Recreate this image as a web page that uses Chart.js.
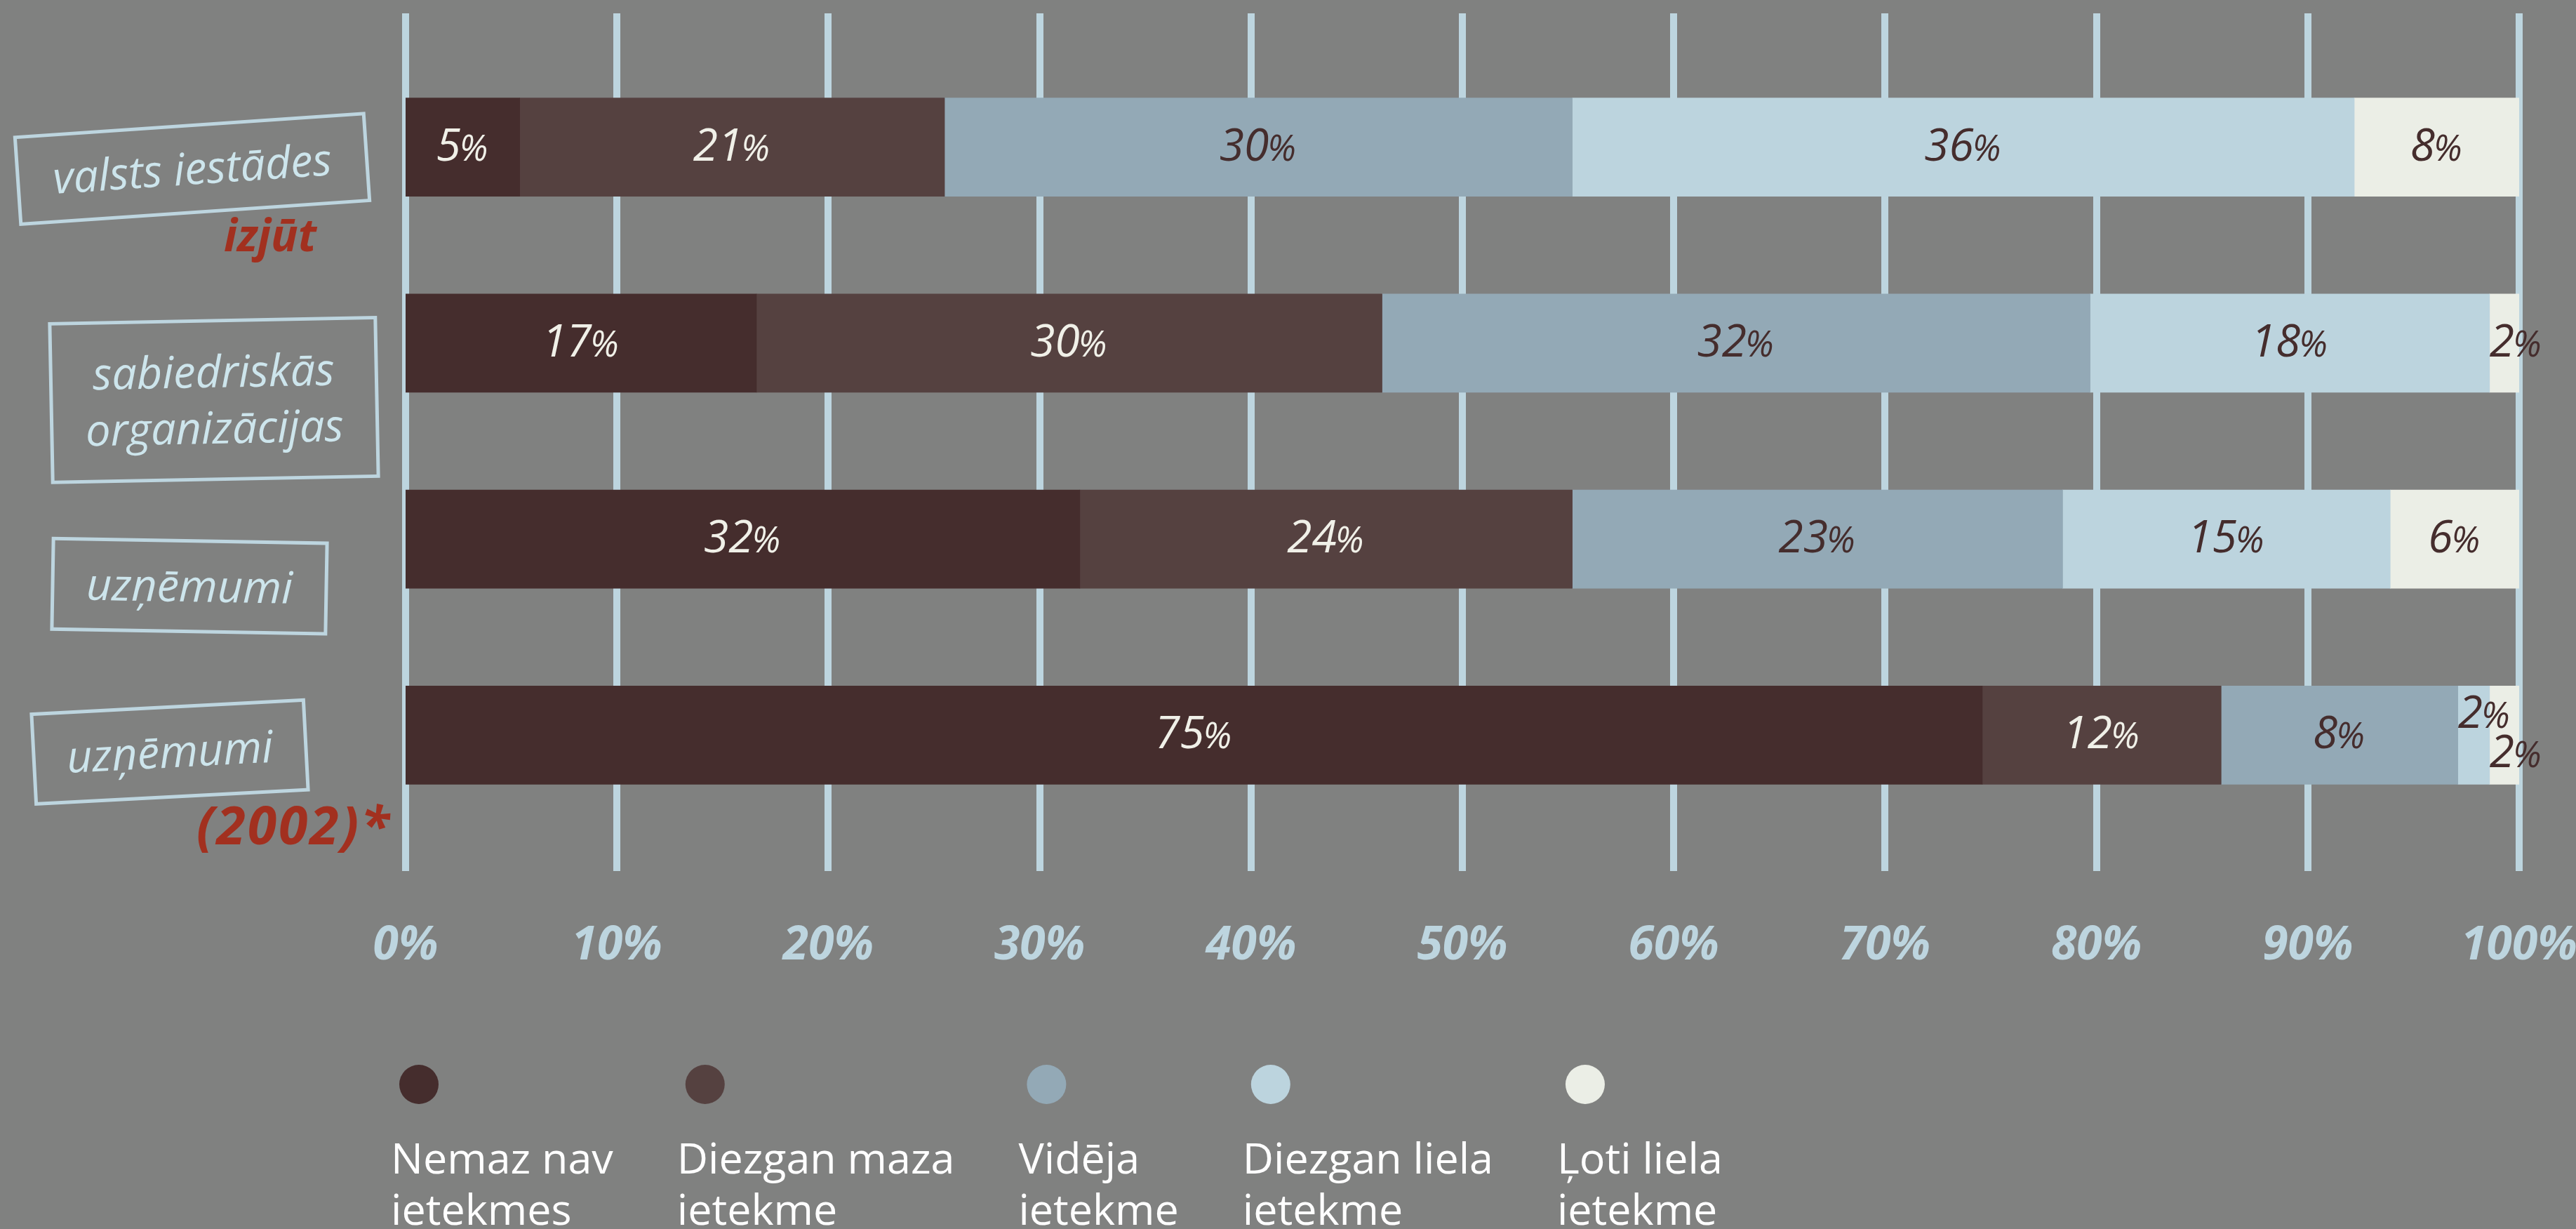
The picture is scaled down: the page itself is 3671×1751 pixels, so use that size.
<!DOCTYPE html>
<html>
<head>
<meta charset="utf-8">
<script src="https://cdn.jsdelivr.net/npm/chart.js@4/dist/chart.umd.min.js"></script>
<style>
html,body{margin:0;padding:0;background:#808180;overflow:hidden}
#wrap{width:3671px;height:1751px;position:relative}
canvas{display:block}
</style>
</head>
<body>
<div id="wrap"><canvas id="c" width="3671" height="1751"></canvas></div>
<script>
// ---- DATA ----
const categories = ['valsts iestādes', 'sabiedriskās organizācijas', 'uzņēmumi', 'uzņēmumi (2002)*'];
const categoryLines = [['valsts iestādes'], ['sabiedriskās', 'organizācijas'], ['uzņēmumi'], ['uzņēmumi']];
const categoryNotes = ['izjūt', '', '', '(2002)*'];

const seriesNames = ['Nemaz nav ietekmes', 'Diezgan maza ietekme', 'Vidēja ietekme', 'Diezgan liela ietekme', 'Ļoti liela ietekme'];
const legendLines = [['Nemaz nav', 'ietekmes'], ['Diezgan maza', 'ietekme'], ['Vidēja', 'ietekme'], ['Diezgan liela', 'ietekme'], ['Ļoti liela', 'ietekme']];

// bar lengths as drawn (percent of the 100% bar)
const nemazNav     = [5.4, 16.6, 31.9, 74.6];
const diezganMaza  = [20.1, 29.6, 23.3, 11.3];
const videja       = [29.7, 33.5, 23.2, 11.2];
const diezganLiela = [37.0, 18.9, 15.5, 1.5];
const lotiLiela    = [7.8, 1.4, 6.1, 1.4];

// percentages printed on the bars
const nemazNavLabels     = [5, 17, 32, 75];
const diezganMazaLabels  = [21, 30, 24, 12];
const videjaLabels       = [30, 32, 23, 8];
const diezganLielaLabels = [36, 18, 15, 2];
const lotiLielaLabels    = [8, 2, 6, 2];

const tickStep = 10;
const axisMin = 0;
const axisMax = 100;

// ---- STYLE ----
const BG = '#808180';
const seriesColors = ['#452D2D', '#554140', '#93A9B6', '#BCD4DE', '#EBEEE6'];
const labelColors = ['#F0F0E8', '#F0F0E8', '#452D2D', '#452D2D', '#452D2D'];
const GRID = '#BDD5DF';
const CAT_TEXT = '#CDE5EC';
const NOTE = '#A2301F';
const FONT = '"Open Sans", "Noto Sans", sans-serif';

const seriesValues = [nemazNav, diezganMaza, videja, diezganLiela, lotiLiela];
const seriesLabels = [nemazNavLabels, diezganMazaLabels, videjaLabels, diezganLielaLabels, lotiLielaLabels];

// category box styles
const boxStyles = [
  {cx: 274, dy: 31, w: 498, h: 124, a: -3.9, ny: 128, nx: 385, nsize: 64, nsp: 0},
  {cx: 305, dy: 81, w: 464, h: 226, a: -1.1},
  {cx: 270, dy: 67, w: 390, h: 129, a: 1.0},
  {cx: 242, dy: 24, w: 388, h: 128, a: -3.0, ny: 136, nx: 419, nsize: 75, nsp: 3}
];

const bgPlugin = {
  id: 'bg',
  beforeDraw(chart) {
    const c = chart.ctx;
    c.save();
    c.fillStyle = BG;
    c.fillRect(0, 0, chart.width, chart.height);
    c.restore();
  }
};

const gridPlugin = {
  id: 'vgrid',
  beforeDatasetsDraw(chart) {
    const c = chart.ctx, xs = chart.scales.x, area = chart.chartArea;
    const top = area.top - 51, bottom = area.bottom + 54;
    c.save();
    c.fillStyle = GRID;
    xs.ticks.forEach(t => {
      const x = xs.getPixelForValue(t.value);
      c.fillRect(Math.round(x - 5), top, 10, bottom - top);
    });
    c.restore();
  }
};

const valuePlugin = {
  id: 'vals',
  afterDatasetsDraw(chart) {
    const c = chart.ctx;
    const numFont = 'italic 400 64px ' + FONT;
    const pctFont = 'italic 400 51px ' + FONT;
    const info = chart.data.datasets.map((ds, i) => {
      const meta = chart.getDatasetMeta(i);
      return meta.data.map((el, j) => {
        const p = el.getProps(['x', 'base', 'y'], true);
        const left = Math.min(p.x, p.base), right = Math.max(p.x, p.base);
        const num = String(ds.printed[j]);
        c.font = numFont; const w1 = c.measureText(num).width;
        c.font = pctFont; const w2 = c.measureText('%').width;
        return {left, right, y: p.y, num, w1, w2, tiny: (right - left) < (w1 + w2)};
      });
    });
    c.save();
    c.textBaseline = 'alphabetic';
    c.textAlign = 'left';
    info.forEach((row, i) => {
      row.forEach((it, j) => {
        let sx = (it.left + it.right) / 2 - (it.w1 + it.w2) / 2;
        let dy = 0;
        if (it.tiny) {
          sx = it.left;
          const nextTiny = info[i + 1] && info[i + 1][j].tiny;
          const prevTiny = info[i - 1] && info[i - 1][j].tiny;
          if (nextTiny) dy = -29;
          else if (prevTiny) dy = 27;
        }
        const by = it.y + 19 + dy;
        c.fillStyle = labelColors[i];
        c.font = numFont;
        c.fillText(it.num, sx, by);
        c.font = pctFont;
        c.fillText('%', sx + it.w1 - 2, by);
      });
    });
    c.restore();
  }
};

const categoryPlugin = {
  id: 'cats',
  afterDraw(chart) {
    const c = chart.ctx, ys = chart.scales.y;
    categories.forEach((cat, i) => {
      const st = boxStyles[i];
      const yc = ys.getPixelForValue(i) + st.dy;
      c.save();
      c.translate(st.cx, yc);
      c.rotate(st.a * Math.PI / 180);
      c.strokeStyle = GRID;
      c.lineWidth = 5;
      c.strokeRect(-st.w / 2, -st.h / 2, st.w, st.h);
      c.fillStyle = CAT_TEXT;
      c.font = 'italic 400 63px ' + FONT;
      c.textAlign = 'center';
      c.textBaseline = 'alphabetic';
      const lines = categoryLines[i];
      const lh = 80;
      const firstBase = 22 - (lines.length - 1) * lh / 2;
      lines.forEach((ln, k) => c.fillText(ln, 0, firstBase + k * lh));
      c.restore();
      if (categoryNotes[i]) {
        c.save();
        c.fillStyle = NOTE;
        c.font = 'italic 700 ' + st.nsize + 'px ' + FONT;
        if ('letterSpacing' in c) c.letterSpacing = st.nsp + 'px';
        c.textAlign = 'center';
        c.textBaseline = 'alphabetic';
        c.fillText(categoryNotes[i], st.nx, ys.getPixelForValue(i) + st.ny + 20);
        c.restore();
      }
    });
  }
};

const legendPlugin = {
  id: 'leg',
  afterDraw(chart) {
    const c = chart.ctx;
    let x = 557;
    const cy = 1545, b1 = 1672, b2 = 1745;
    c.save();
    c.font = '400 61px ' + FONT;
    c.textAlign = 'left';
    c.textBaseline = 'alphabetic';
    chart.data.datasets.forEach((ds, i) => {
      c.fillStyle = ds.backgroundColor;
      c.beginPath();
      c.arc(x + 40, cy, 28, 0, Math.PI * 2);
      c.fill();
      c.fillStyle = '#FFFFFF';
      const lines = legendLines[i];
      c.fillText(lines[0], x, b1);
      c.fillText(lines[1], x, b2);
      const w = Math.max(...lines.map(l => c.measureText(l).width));
      x += w + 91;
    });
    c.restore();
  }
};

new Chart(document.getElementById('c').getContext('2d'), {
  type: 'bar',
  data: {
    labels: categories,
    datasets: seriesValues.map((vals, i) => ({
      label: seriesNames[i],
      data: vals,
      printed: seriesLabels[i],
      backgroundColor: seriesColors[i],
      borderWidth: 0,
      barThickness: 140
    }))
  },
  options: {
    indexAxis: 'y',
    responsive: false,
    animation: false,
    devicePixelRatio: 1,
    layout: {padding: {top: 70, right: 81, left: 0, bottom: 0}},
    scales: {
      x: {
        type: 'linear', stacked: true, min: axisMin, max: axisMax, position: 'bottom',
        grid: {display: false}, border: {display: false},
        ticks: {
          stepSize: tickStep, padding: 114, color: GRID, autoSkip: false, maxRotation: 0,
          font: {family: FONT, size: 66, style: 'italic', weight: 'bold'},
          callback: v => v + '%'
        },
        afterFit(s) { s.height = 564; s.paddingLeft = 0; s.paddingRight = 0; }
      },
      y: {
        type: 'category', stacked: true,
        grid: {display: false}, border: {display: false},
        ticks: {display: false},
        afterFit(s) { s.width = 578; }
      }
    },
    plugins: {legend: {display: false}, tooltip: {enabled: false}}
  },
  plugins: [bgPlugin, gridPlugin, valuePlugin, categoryPlugin, legendPlugin]
});
</script>
</body>
</html>
